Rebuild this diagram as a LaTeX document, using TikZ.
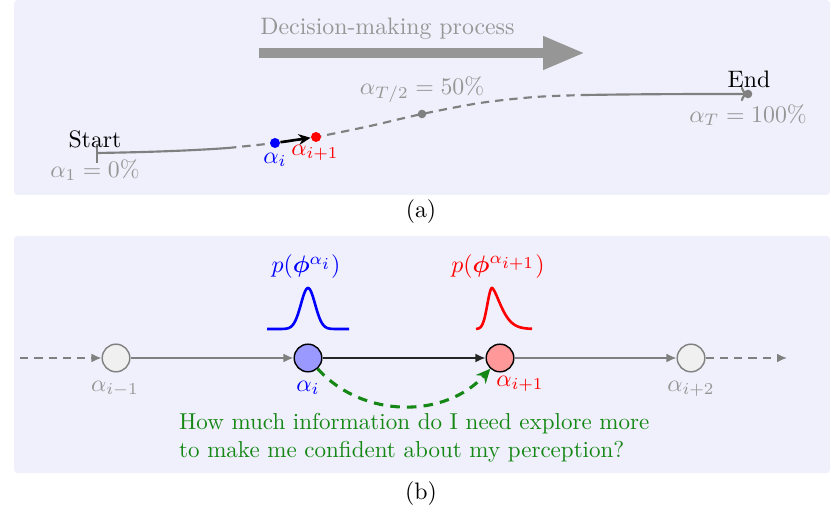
\documentclass[tikz,border=0pt]{standalone}
\usepackage{bm}
\usetikzlibrary{arrows.meta,calc}
\definecolor{panelbg}{RGB}{240,240,252}
\definecolor{txtgray}{RGB}{150,150,150}
\definecolor{curvegray}{RGB}{128,128,128}
\definecolor{qgreen}{RGB}{20,135,20}
\begin{document}
\begin{tikzpicture}[x=0.42pt,y=-0.42pt,
  panel/.style={fill=panelbg, rounded corners=1.5pt},
  graytxt/.style={text=txtgray},
  curve/.style={draw=curvegray, line width=0.9pt},
  dashpat/.style={dash pattern=on 3.5pt off 2.5pt},
  pdot/.style={circle, inner sep=0pt, minimum size=4.2pt, fill=#1},
  statenode/.style={circle, draw, minimum size=11.6pt, inner sep=0pt, line width=0.6pt},
  link/.style={-{Latex[length=4.2pt,width=3.6pt]}, line width=0.5pt}]
\useasboundingbox (0,0) rectangle (831,519);
\fill[panel] (14,0) rectangle (830,195);
\fill[panel] (14,236) rectangle (830,473);

% ---------- panel (a) ----------
\coordinate (dmA) at (259,53);
\coordinate (dmB) at (585,53);
\draw[line width=4.2pt, color=txtgray, -{Triangle[length=17.6pt,width=13pt]}] (dmA) -- (dmB);
\node[graytxt, anchor=base west] (dmtxt) at (252,35) {Decision-making process};

\coordinate (s) at (97,153);
\coordinate (d1) at (228,148);
\coordinate (pai) at (275,143);
\coordinate (paip) at (316,137);
\coordinate (pmid) at (422,114);
\coordinate (d2) at (585,95);
\coordinate (pend) at (748,94);

\draw[curve, -] (s) .. controls (160,152) and (200,150) .. (d1);
\draw[curve, line width=0.6pt] ($(s)+(0,-9)$) -- ($(s)+(0,10)$);
\draw[curve, dashpat] plot[smooth] coordinates {(228,148) (275,143) (316,137) (370,126) (422,114) (480,103) (535,97) (585,95)};
\draw[curve, -{To[length=3pt,width=6pt]}] (d2) .. controls (650,94) and (700,94) .. (pend);

\node[pdot=blue] (ai) at (pai) {};
\node[pdot=red] (aip) at (paip) {};
\node[pdot=curvegray, minimum size=3.6pt] (mid) at (pmid) {};
\node[pdot=curvegray, minimum size=3.6pt] (endd) at (pend) {};
\draw[line width=1.1pt, -{Stealth[length=5pt,width=4.5pt]}] (ai) -- (aip);

\node (start) at (95,139) {Start};
\node[graytxt] (a1) at (95,170) {$\alpha_1 = 0\%$};
\node[text=blue] (lai) at (275,160) {$\alpha_i$};
\node[text=red] (laip) at (315,153) {$\alpha_{i+1}$};
\node[graytxt] (lmid) at (422,90) {$\alpha_{T/2} = 50\%$};
\node (endt) at (749,79) {End};
\node[graytxt] (aT) at (748,115) {$\alpha_T = 100\%$};

\node (capa) at (421,212) {(a)};

% ---------- panel (b) ----------
\node[statenode, draw=curvegray, fill=black!6] (n1) at (116,358) {};
\node[statenode, draw=black, fill=blue!40] (n2) at (308,358) {};
\node[statenode, draw=black, fill=red!40] (n3) at (500,358) {};
\node[statenode, draw=curvegray, fill=black!6] (n4) at (691,358) {};
\coordinate (lin) at (20,358);
\coordinate (lout) at (787,358);

\draw[link, curvegray, dashpat] (lin) -- (n1);
\draw[link, curvegray] (n1) -- (n2);
\draw[link, black!85] (n2) -- (n3);
\draw[link, curvegray] (n3) -- (n4);
\draw[link, curvegray, dashpat] (n4) -- (lout);

\node[graytxt] (l1) at (115,389) {$\alpha_{i-1}$};
\node[text=blue] (l2) at (308,388) {$\alpha_i$};
\node[text=red] (l3) at (520,384) {$\alpha_{i+1}$};
\node[graytxt] (l4) at (691,389) {$\alpha_{i+2}$};

\draw[blue, line width=1.1pt] plot[domain=-41:41, samples=83] ({308+\x},{329-41*exp(-(\x/10)^2)});
\draw[red, line width=1.1pt] plot[domain=-16:0, samples=30] ({492+\x},{329-41*exp(-(\x/6.5)^2)})
  -- plot[domain=0.01:40, samples=60] ({492+\x},{329-41*exp(-((\x/13)^1.5))});
\node[text=blue] (p1) at (306,267) {$p(\bm{\phi}^{\alpha_{\scriptstyle i}})$};
\node[text=red] (p2) at (498,267) {$p(\bm{\phi}^{\alpha_{\scriptstyle i+1}})$};

\draw[qgreen, line width=1.3pt, dash pattern=on 4pt off 3pt, -{Stealth[length=6pt,width=5.5pt]}] (n2) to[out=-48,in=-132] (n3);

\node[anchor=west, align=left, text=qgreen, scale=0.967] (q) at (171,438) {How much information do I need explore more\\to make me confident about my perception?};

\node (capb) at (421,494) {(b)};
\end{tikzpicture}
\end{document}
